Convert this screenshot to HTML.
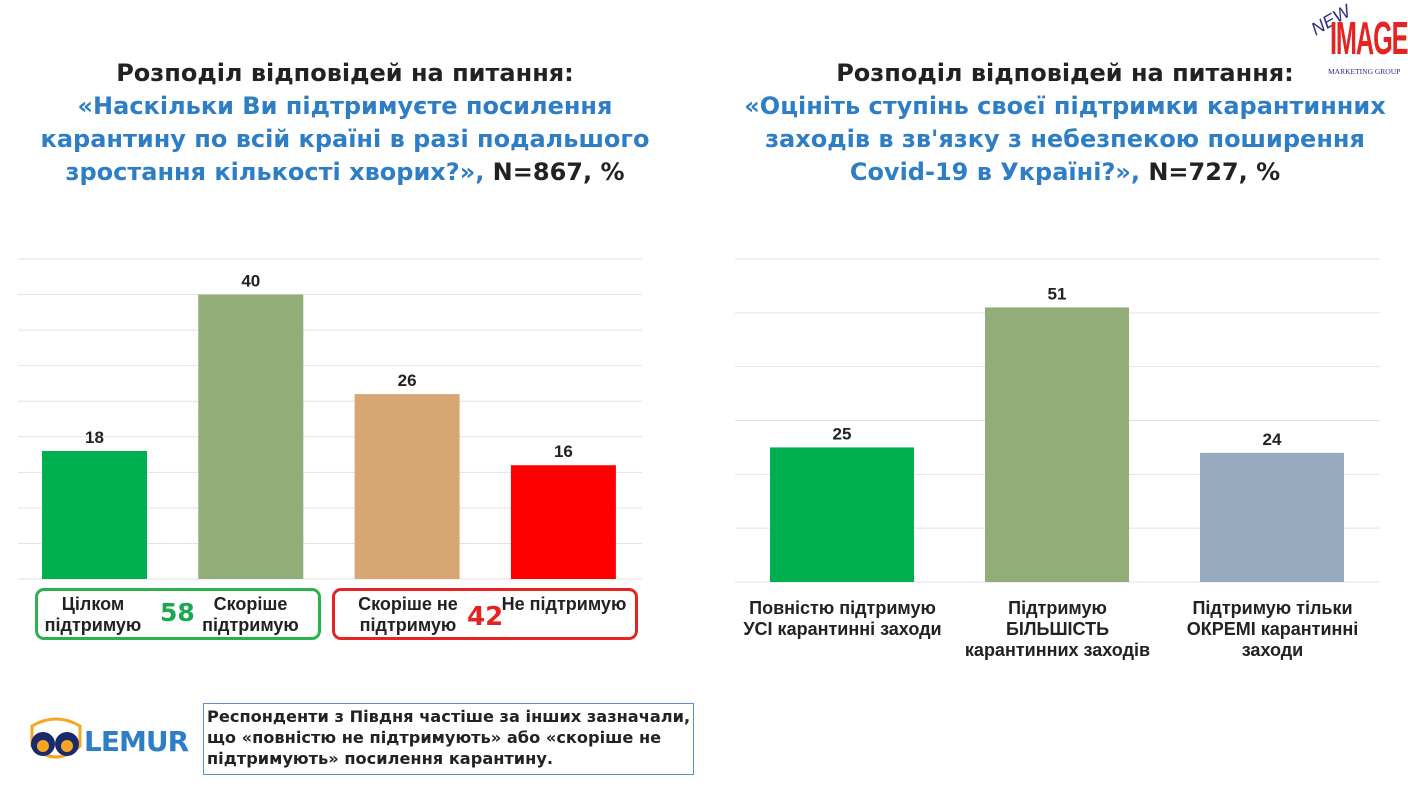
<!DOCTYPE html>
<html><head><meta charset="utf-8"><style>
body{margin:0;width:1408px;height:789px;background:#fff;position:relative;overflow:hidden;font-family:"Liberation Sans",Arial,sans-serif}
.t{position:absolute;text-align:center;font-weight:bold;font-size:24px;line-height:33px;color:#222;font-family:"DejaVu Sans",Verdana,sans-serif;white-space:nowrap}
.b{color:#2e7ec6}
.lb{position:absolute;font-weight:bold;font-size:18px;line-height:21px;color:#222;text-align:center}
</style></head><body>
<div class="t" style="left:0px;top:57px;width:690px">Розподіл відповідей на питання:<br><span class="b">«Наскільки Ви підтримуєте посилення<br>карантину по всій країні в разі подальшого<br>зростання кількості хворих?»,</span> N=867, %</div>
<div class="t" style="left:720px;top:57px;width:690px">Розподіл відповідей на питання:<br><span class="b">«Оцініть ступінь своєї підтримки карантинних<br>заходів в зв'язку з небезпекою поширення<br>Covid-19 в Україні?»,</span> N=727, %</div>
<div style="position:absolute;left:1310px;top:0;width:98px;height:80px">
<div style="position:absolute;left:0px;top:10px;color:#2a2a8a;font-style:italic;font-size:18px;transform:rotate(-30deg)">NEW</div>
<div style="position:absolute;left:20px;top:12px;color:#e52421;font-weight:bold;font-size:46px;line-height:52px;letter-spacing:-2px;transform:scaleX(0.55);transform-origin:left">IMAGE</div>
<div style="position:absolute;left:18px;top:67px;color:#2a2a8a;font-family:'Liberation Serif',serif;font-size:7.5px;white-space:nowrap">MARKETING GROUP</div></div>
<svg id="c" width="1408" height="789" style="position:absolute;left:0;top:0"></svg>
<div style="position:absolute;left:35px;top:588px;width:280px;height:46px;border:3px solid #2bb24c;border-radius:9px"></div>
<div style="position:absolute;left:332px;top:588px;width:300px;height:46px;border:3px solid #e52421;border-radius:9px"></div>
<div class="lb" style="left:38px;top:594px;width:110px">Цілком<br>підтримую</div>
<div style="position:absolute;left:160px;top:598px;font-weight:bold;font-size:25px;color:#1aa850;font-family:'DejaVu Sans',sans-serif">58</div>
<div class="lb" style="left:193px;top:594px;width:115px">Скоріше<br>підтримую</div>
<div class="lb" style="left:348px;top:594px;width:120px">Скоріше не<br>підтримую</div>
<div style="position:absolute;left:467px;top:602px;font-weight:bold;font-size:26px;color:#e52421;font-family:'DejaVu Sans',sans-serif">42</div>
<div class="lb" style="left:496px;top:594px;width:136px">Не підтримую</div>
<div class="lb" style="left:735px;top:598px;width:215px">Повністю підтримую<br>УСІ карантинні заходи</div>
<div class="lb" style="left:950px;top:598px;width:215px">Підтримую<br>БІЛЬШІСТЬ<br>карантинних заходів</div>
<div class="lb" style="left:1165px;top:598px;width:215px">Підтримую тільки<br>ОКРЕМІ карантинні<br>заходи</div>
<div style="position:absolute;left:26px;top:714px;width:170px;height:52px">
<svg width="60" height="52"><path d="M6 12 Q30 -2 54 12 L54 32 Q30 54 6 32Z" fill="none" stroke="#f5a623" stroke-width="3"/><circle cx="17" cy="30" r="12" fill="#1b2a6b"/><circle cx="41" cy="30" r="12" fill="#1b2a6b"/><circle cx="17" cy="32" r="6" fill="#f5a623"/><circle cx="41" cy="32" r="6" fill="#f5a623"/></svg>
<div style="position:absolute;left:58px;top:11px;font-weight:bold;font-size:28px;color:#2e7ec6;font-family:'DejaVu Sans',sans-serif;letter-spacing:-1px">LEMUR</div></div>
<div style="position:absolute;left:203px;top:703px;width:486px;height:68px;border:1px solid #5b8fd6;font-weight:bold;font-size:16.2px;line-height:21px;padding:2px 0 0 3px;color:#222;font-family:'DejaVu Sans',Verdana,sans-serif;white-space:nowrap;overflow:hidden">Респонденти з Півдня частіше за інших зазначали,<br>що «повністю не підтримують» або «скоріше не<br>підтримують» посилення карантину.</div>
<script>
const leftValues=[18,40,26,16];
const leftColors=['#00b050','#92ad78','#d8a673','#ff0000'];
const rightCats=['Повністю','Більшість','Окремі'];
const rightValues=[25,51,24];
const rightColors=['#00b050','#92ad78','#96abc0'];
const NS='http://www.w3.org/2000/svg',svg=document.getElementById('c');
function mk(t,a){const e=document.createElementNS(NS,t);for(const k in a)e.setAttribute(k,a[k]);svg.appendChild(e);return e;}
function chart(vals,cols,x0,x1,base,top,max,step,bx0,bstep,bw,nm){
 const y=v=>base-(base-top)*v/max;
 for(let v=0;v<=max;v+=step){const l=mk('line',{x1:x0,x2:x1,y1:y(v),y2:y(v),stroke:'#e2e2e2','stroke-width':1});
 
 }
 vals.forEach((v,i)=>{const r=mk('rect',{x:bx0+i*bstep,y:y(v),width:bw,height:base-y(v),fill:cols[i]});
 
 
 const t=mk('text',{x:bx0+i*bstep+bw/2,y:y(v)-8,'text-anchor':'middle','font-size':17,'font-weight':'bold',fill:'#222','font-family':'Liberation Sans'});t.textContent=v;
 
 });
}
chart(leftValues,leftColors,18,642,579,259,45,5,42,156.3,105,'left');
chart(rightValues,rightColors,735,1380,582,259,60,10,770,215,144,'right');
</script>
</body></html>
